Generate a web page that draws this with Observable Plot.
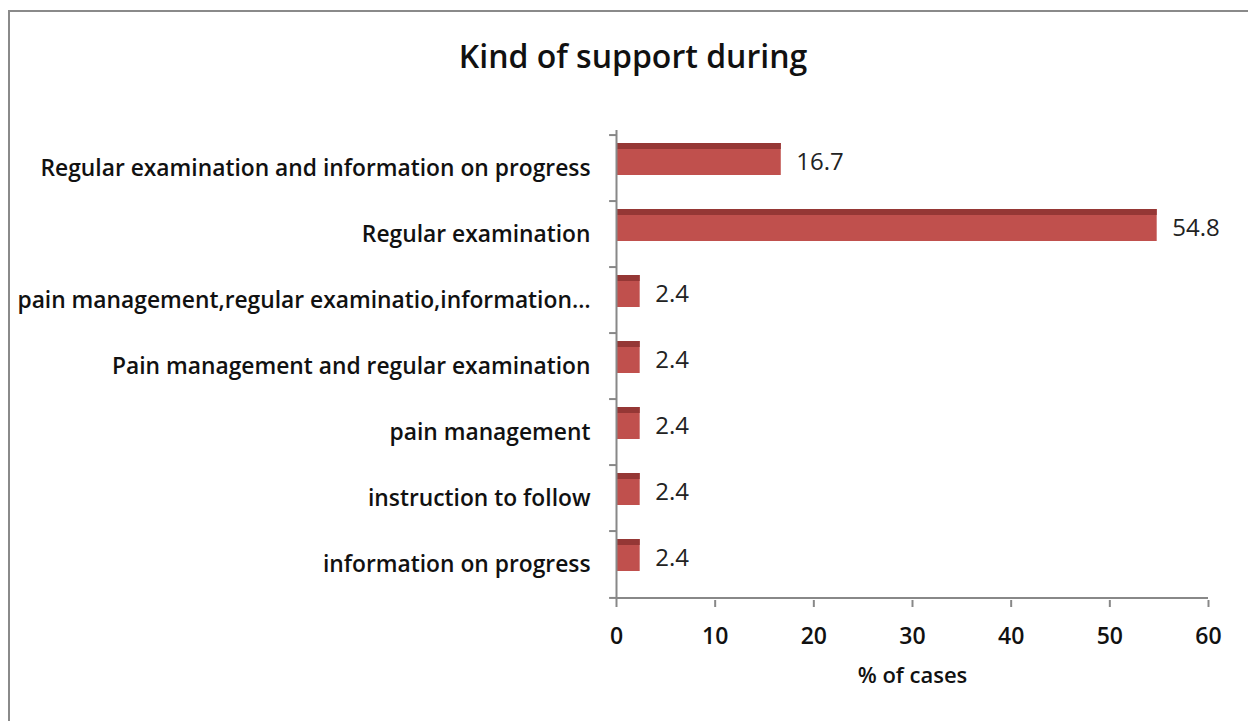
<!DOCTYPE html>
<html>
<head>
<meta charset="utf-8">
<script src="https://cdn.jsdelivr.net/npm/d3@7"></script>
<script src="https://cdn.jsdelivr.net/npm/@observablehq/plot@0.6"></script>
<style>
  html, body { margin: 0; padding: 0; background: #fff; width: 1248px; height: 721px; overflow: hidden; }
  #frame { position: absolute; left: 8px; top: 10px; width: 1300px; height: 800px;
           border-left: 2.5px solid #8a8a8a; border-top: 2.5px solid #8a8a8a; box-sizing: border-box; }
  #title { position: absolute; left: 0; width: 1266px; top: 34px; text-align: center;
           font-family: "Open Sans", sans-serif; font-weight: 600; font-size: 32px; color: #111; }
  #chart { position: absolute; left: 0; top: 0; }
</style>
</head>
<body>
<div id="frame"></div>
<div id="title">Kind of support during</div>
<div id="chart"></div>
<script>
const categories = [
  "Regular examination and information on progress",
  "Regular examination",
  "pain management,regular examinatio,information…",
  "Pain management and regular examination",
  "pain management",
  "instruction to follow",
  "information on progress"
];
const values = [16.7, 54.8, 2.4, 2.4, 2.4, 2.4, 2.4];
const xTicks = [0, 10, 20, 30, 40, 50, 60];
const xLabel = "% of cases";

const data = categories.map((c, i) => ({category: c, value: values[i]}));

const W = 1248, H = 721;
const mT = 132, mB = 121, mL = 616, mR = 40;
const step = (H - mT - mB) / categories.length;
const axisColor = "#888";
const font = "'Open Sans', sans-serif";

const chart = Plot.plot({
  width: W,
  height: H,
  marginTop: mT,
  marginBottom: mB,
  marginLeft: mL,
  marginRight: mR,
  style: {fontFamily: font, background: "transparent", overflow: "visible"},
  x: {domain: [0, 60], ticks: xTicks},
  y: {domain: categories, padding: 0},
  marks: [
    Plot.barX(data, {y: "category", x: "value", fill: "#C0504D", insetTop: 8, insetBottom: 26}),
    Plot.barX(data, {y: "category", x: "value", fill: "#953735", insetTop: 8, insetBottom: 52}),
    Plot.text(data, {y: "category", x: "value", text: d => d.value.toFixed(1), textAnchor: "start",
      dx: 15, dy: -6, fontSize: 24, fill: "#222"}),
    Plot.ruleX([0], {stroke: axisColor, strokeWidth: 2, insetTop: -2}),
    Plot.ruleY(categories, {y: d => d, x1: -0.7, x2: 0, dy: -step / 2, stroke: axisColor, strokeWidth: 2}),
    Plot.ruleY(categories.slice(-1), {y: d => d, x1: -0.7, x2: 0, dy: step / 2, stroke: axisColor, strokeWidth: 2}),
    Plot.ruleY([0], {y: () => categories[categories.length - 1], x1: 0, x2: 60, dy: step / 2, stroke: axisColor, strokeWidth: 2}),
    Plot.axisX({ticks: xTicks, tickSize: 7, tickPadding: 20, stroke: axisColor, strokeWidth: 2,
      fontSize: 23, fontWeight: 600, fill: "#111", label: null}),
    Plot.axisY({tickSize: 0, tickPadding: 26, fontSize: 22.8, fontWeight: 600, fill: "#111", label: null}),
    Plot.text([xLabel], {x: 30, frameAnchor: "bottom", dy: 82, text: d => d, fontSize: 22, fontWeight: 600, fill: "#111"})
  ]
});
document.getElementById("chart").appendChild(chart);
</script>
</body>
</html>
